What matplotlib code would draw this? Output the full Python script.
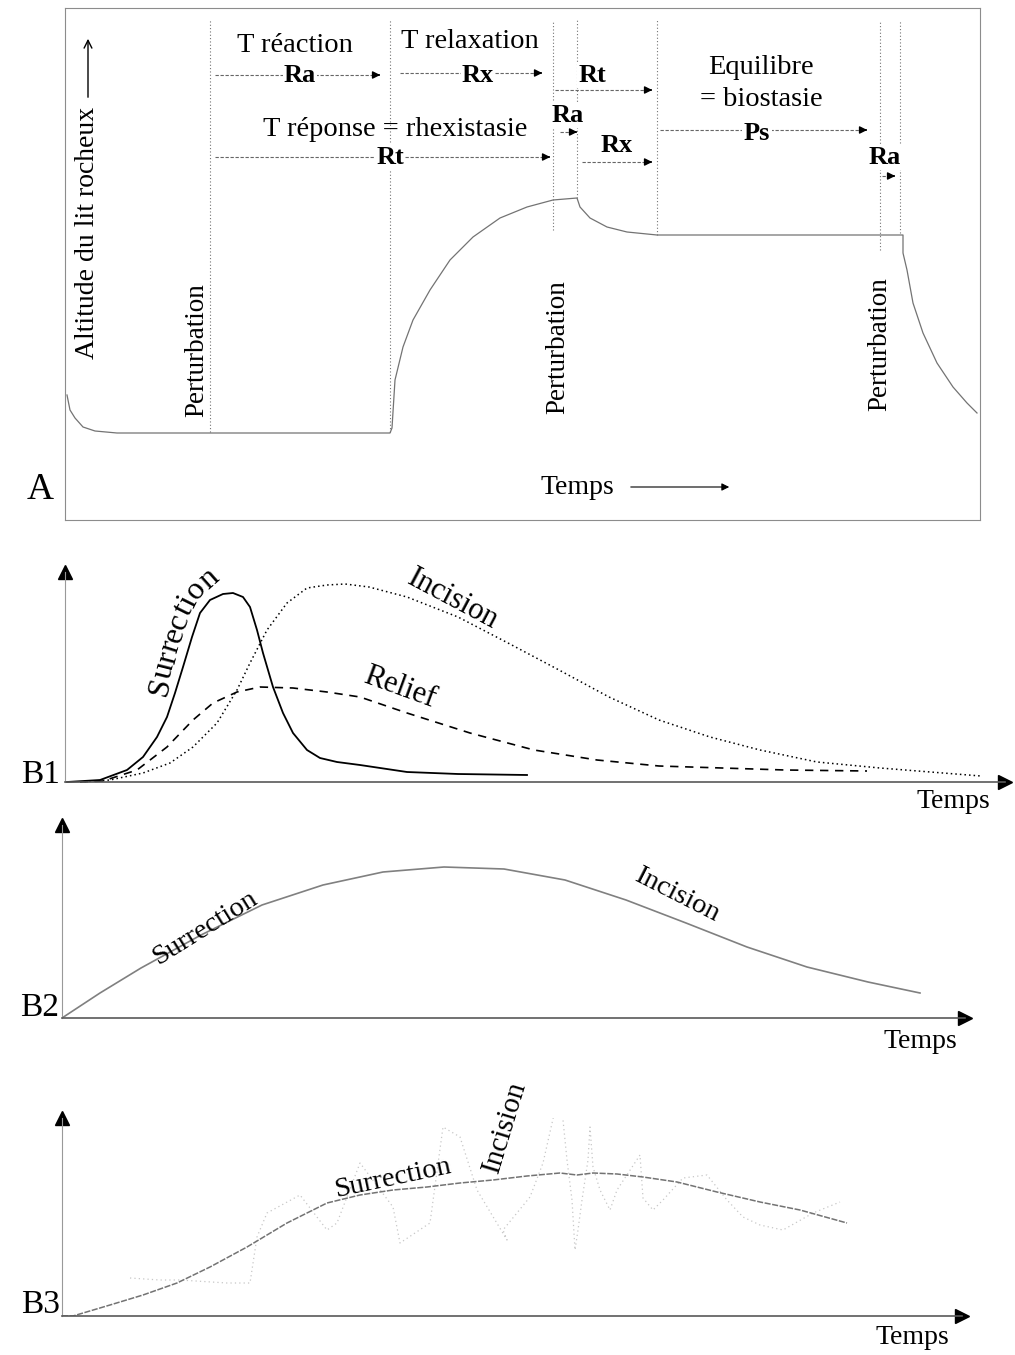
import matplotlib
matplotlib.use('Agg')
import matplotlib.pyplot as plt
import numpy as np

plt.rcParams['font.family'] = ['Liberation Serif', 'DejaVu Serif']

W, H = 1015, 1355

# ---- panel A : altitude du lit rocheux vs temps
a_t = [2, 5, 10, 18, 30, 52, 325, 327, 330, 338, 348, 365, 385, 408, 435, 462, 488, 512,
       515, 525, 542, 562, 582, 592, 838, 838, 842, 848, 858, 872, 888, 902, 912]
a_z = [125, 110, 102, 93, 89, 87, 87, 92, 140, 173, 200, 230, 260, 283, 302, 313, 320, 322,
       313, 302, 293, 288, 286, 285, 285, 267, 250, 217, 187, 157, 133, 117, 107]
a_perturb_t = [145, 325, 488, 512, 592, 815, 835]
a_perturb_low = [88, 88, 290, 322, 285, 270, 287]
a_perturb_labels_t = [132, 493, 815]
a_perturb_labels_z = [170, 173, 176]
# arrows : start, end, height
a_arrow_t0 = [150, 335, 490, 150, 495, 517, 595, 817]
a_arrow_t1 = [318, 480, 590, 488, 515, 590, 805, 833]
a_arrow_z = [445, 447, 430, 363, 388, 358, 390, 344]
a_codes = ['Ra', 'Rx', 'Rt', 'Rt', 'Ra', 'Rx', 'Ps', 'Ra']
a_code_t = [235, 413, 527, 325, 503, 552, 692, 820]
a_code_z = [445, 445, 445, 363, 405, 375, 387, 363]
a_titles = ['T réaction', 'T relaxation', 'T réponse = rhexistasie', 'Equilibre', '= biostasie']
a_title_t = [230, 405, 330, 696, 696]
a_title_z = [475, 478, 390, 452, 420]

# ---- panel B1
b1_surr_t = [2, 35, 62, 78, 92, 102, 110, 118, 127, 135, 145, 158, 168, 178, 185, 192, 198,
             208, 218, 228, 242, 255, 272, 295, 342, 393, 462]
b1_surr_v = [0, 2, 12, 25, 45, 65, 89, 115, 145, 169, 182, 188, 189, 185, 175, 152, 129,
             95, 69, 49, 32, 24, 20, 17, 10, 8, 7]
b1_inc_t = [15, 45, 78, 105, 128, 152, 172, 185, 202, 222, 242, 262, 280, 304, 342, 393, 443,
            494, 544, 594, 645, 695, 752, 815, 878, 916]
b1_inc_v = [0, 2, 9, 19, 35, 59, 92, 119, 152, 179, 194, 197, 198, 195, 185, 165, 139,
            112, 85, 62, 45, 32, 20, 14, 9, 6]
b1_rel_t = [15, 38, 72, 102, 128, 148, 172, 195, 228, 262, 295, 342, 405, 469, 532, 594, 657, 720, 802]
b1_rel_v = [0, 1, 12, 35, 62, 79, 90, 95, 94, 90, 85, 69, 49, 32, 22, 16, 14, 12, 11]
# baseline followed by the "Surrection" label
b1_label_t = [97, 102, 107, 112, 118, 124, 131, 140, 149, 160, 171]
b1_label_v = [70, 90, 110, 129, 148, 165, 179, 190, 198, 202, 204]

# ---- panel B2
b2_t = [0, 38, 79, 139, 200, 261, 321, 382, 442, 503, 564, 624, 685, 745, 806, 858]
b2_v = [0, 25, 50, 83, 113, 133, 146, 151, 149, 138, 118, 95, 71, 51, 36, 25]

# ---- panel B3
b3_t = [0, 11, 48, 81, 115, 148, 185, 225, 265, 298, 331, 365, 398, 431, 465, 498, 515,
        531, 555, 581, 615, 655, 698, 738, 785]
b3_v = [0, 0, 11, 21, 33, 49, 69, 93, 113, 121, 126, 129, 133, 136, 140, 143, 141,
        143, 142, 139, 134, 124, 114, 106, 93]
b3_inc_t = [68, 98, 118, 165, 188, 195, 205, 238, 265, 275, 298, 331, 338, 368, 381, 398, 415,
            445, 441, 468, 481, 493, 496, 500, 505, 510, 513, 516, 520, 526, 528, 531, 538,
            548, 555, 578, 581, 591, 601, 621, 645, 665, 681, 698, 721, 751, 778]
b3_inc_v = [38, 36, 36, 33, 33, 79, 103, 121, 86, 93, 153, 109, 73, 93, 189, 179, 126,
            76, 86, 119, 153, 206, 253, 206, 156, 116, 66, 86, 116, 156, 189, 149, 126,
            106, 126, 161, 118, 106, 116, 138, 141, 116, 99, 91, 86, 103, 114]


def box(x0, y0, x1, y1):
    return [x0 / W, 1 - y1 / H, (x1 - x0) / W, (y1 - y0) / H]


fig = plt.figure(figsize=(W / 100, H / 100), dpi=100)
renderer = fig.canvas.get_renderer()


def text_on_path(ax, s, xs, ys, size):
    # lay the letters one by one along a polyline
    pts = ax.transData.transform(np.column_stack([xs, ys]))
    d = np.hypot(*np.diff(pts, axis=0).T)
    cum = np.concatenate([[0], np.cumsum(d)])
    widths = []
    for ch in s:
        t = ax.text(0, 0, ch, fontsize=size)
        widths.append(t.get_window_extent(renderer).width)
        t.remove()
    pos = (cum[-1] - sum(widths)) / 2
    inv = ax.transData.inverted()
    for ch, w in zip(s, widths):
        m = pos + w / 2
        i = int(np.clip(np.searchsorted(cum, m) - 1, 0, len(d) - 1))
        f = (m - cum[i]) / d[i]
        p = pts[i] + f * (pts[i + 1] - pts[i])
        dx, dy = pts[i + 1] - pts[i]
        x, y = inv.transform(p)
        ax.text(x, y, ch, fontsize=size, rotation=np.degrees(np.arctan2(dy, dx)),
                rotation_mode='anchor', ha='center', va='baseline')
        pos += w


# ================= A
ax = fig.add_axes(box(65, 8, 980, 520))
ax.set_xlim(0, 915)
ax.set_ylim(0, 512)
ax.set_xticks([])
ax.set_yticks([])
for s in ax.spines.values():
    s.set_color('0.55')
    s.set_linewidth(0.8)

ax.plot(a_t, a_z, color='0.45', lw=0.9)
for t, lo in zip(a_perturb_t, a_perturb_low):
    ax.plot([t, t], [lo, 500], color='0.45', lw=0.8, ls=(0, (1, 2)))
for t, z in zip(a_perturb_labels_t, a_perturb_labels_z):
    ax.text(t, z, 'Perturbation', rotation=90, ha='center', va='center', fontsize=19.5)

for t0, t1, z in zip(a_arrow_t0, a_arrow_t1, a_arrow_z):
    ax.plot([t0, t1 - 5], [z, z], color='0.4', lw=0.8, ls=(0, (3, 1.5)))
    ax.annotate('', xy=(t1, z), xytext=(t1 - 7, z),
                arrowprops=dict(arrowstyle='-|>', color='k', lw=1, mutation_scale=11))
for c, t, z in zip(a_codes, a_code_t, a_code_z):
    ax.text(t, z, c, ha='center', va='center', fontsize=19, fontweight='bold',
            bbox=dict(fc='white', ec='none', pad=1))
for s, t, z in zip(a_titles, a_title_t, a_title_z):
    ax.text(t, z, s, ha='center', va='center', fontsize=20.5)

ax.text(23, 287, 'Altitude du lit rocheux', rotation=90, ha='center', va='center', fontsize=20)
ax.annotate('', xy=(23, 484), xytext=(23, 420),
            arrowprops=dict(arrowstyle='->', color='k', lw=1, mutation_scale=14))
ax.text(512, 33, 'Temps', ha='center', va='center', fontsize=20)
ax.annotate('', xy=(667, 33), xytext=(563, 33),
            arrowprops=dict(arrowstyle='-|>', color='k', lw=0.8, mutation_scale=11))
fig.text(40 / W, 1 - 490 / H, 'A', ha='center', va='center', fontsize=27)


def b_axes(x0, y0, x1, y1):
    b = fig.add_axes(box(x0, y0, x1, y1))
    b.set_xlim(0, x1 - x0)
    b.set_ylim(0, y1 - y0)
    b.set_xticks([])
    b.set_yticks([])
    b.spines['top'].set_visible(False)
    b.spines['right'].set_visible(False)
    b.spines['left'].set_color('0.6')
    b.spines['left'].set_linewidth(0.8)
    b.spines['bottom'].set_color('0.35')
    b.spines['bottom'].set_linewidth(1.2)
    b.patch.set_alpha(0)
    b.plot(1, 0, '>k', ms=10, transform=b.get_yaxis_transform(), clip_on=False)
    b.plot(0, 1, '^k', ms=10, transform=b.get_xaxis_transform(), clip_on=False)
    return b


# ================= B1
b1 = b_axes(65, 572, 1005, 782)
b1.plot(b1_surr_t, b1_surr_v, color='k', lw=1.3, clip_on=False)
b1.plot(b1_inc_t, b1_inc_v, color='k', lw=1.1, ls=(0, (1, 2)), clip_on=False)
b1.plot(b1_rel_t, b1_rel_v, color='k', lw=1.2, ls=(0, (5, 4)), clip_on=False)
text_on_path(b1, 'Surrection', b1_label_t, b1_label_v, 23)
b1.text(388, 183, 'Incision', rotation=-28, ha='center', va='center', fontsize=22)
b1.text(335, 94, 'Relief', rotation=-20, ha='center', va='center', fontsize=22)
b1.text(888, -20, 'Temps', ha='center', va='center', fontsize=20)
fig.text(40 / W, 1 - 775 / H, 'B1', ha='center', va='center', fontsize=24)

# ================= B2
b2 = b_axes(62, 825, 965, 1018)
b2.plot(b2_t, b2_v, color='0.5', lw=1.2)
b2.text(143, 90, 'Surrection', rotation=32, ha='center', va='center', fontsize=20.5)
b2.text(615, 123, 'Incision', rotation=-27, ha='center', va='center', fontsize=20.5)
b2.text(858, -24, 'Temps', ha='center', va='center', fontsize=20)
fig.text(40 / W, 1 - 1008 / H, 'B2', ha='center', va='center', fontsize=24)

# ================= B3
b3 = b_axes(62, 1118, 962, 1316)
b3.plot(b3_inc_t, b3_inc_v, color='0.78', lw=0.9, ls=(0, (1, 2.5)))
b3.plot(b3_t, b3_v, color='0.45', lw=1.1, ls=(0, (4, 1)))
b3.text(331, 138, 'Surrection', rotation=12, ha='center', va='center', fontsize=20.5)
b3.text(443, 189, 'Incision', rotation=73, ha='center', va='center', fontsize=21)
b3.text(850, -22, 'Temps', ha='center', va='center', fontsize=20)
fig.text(40 / W, 1 - 1305 / H, 'B3', ha='center', va='center', fontsize=24)

fig.savefig('out.png', dpi=100)
